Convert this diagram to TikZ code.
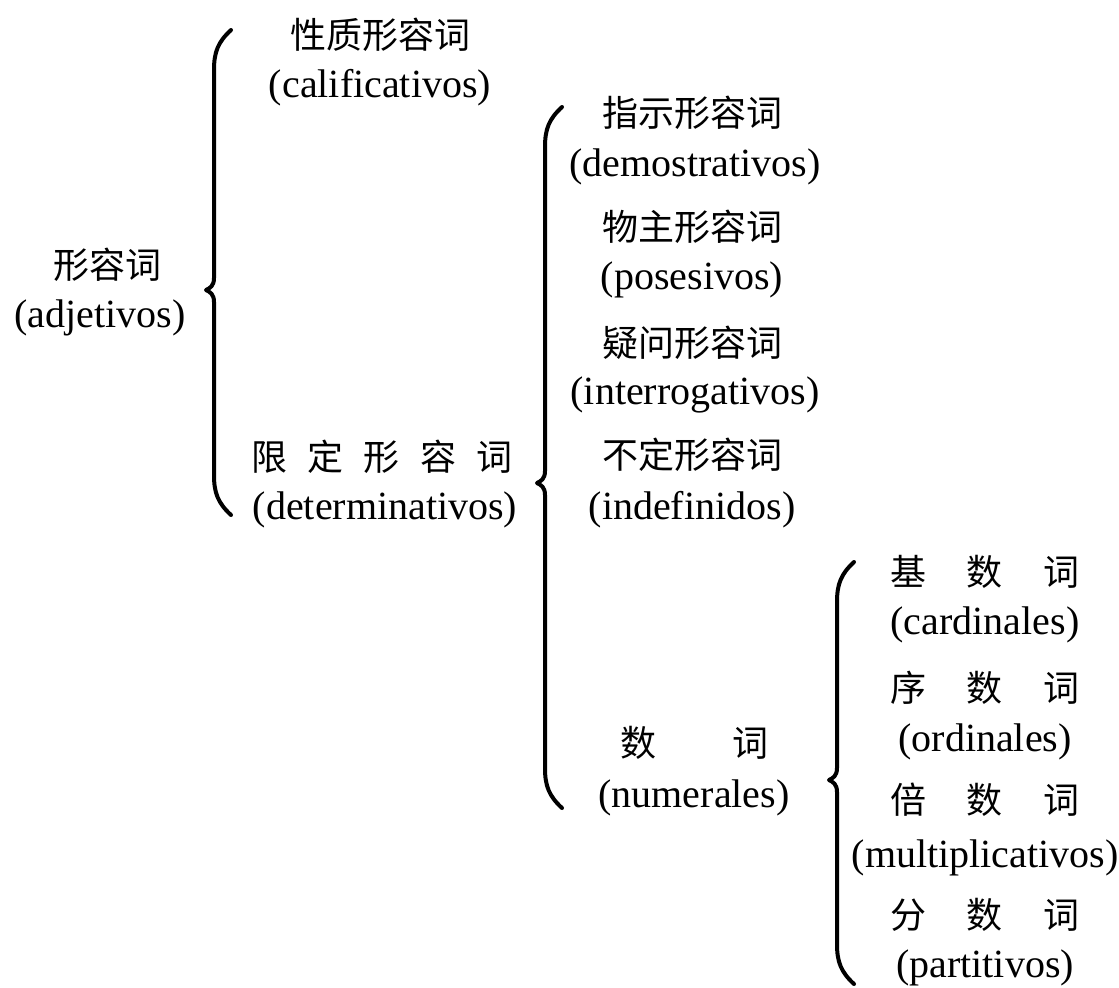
\documentclass[tikz,border=0pt]{standalone}
\usepackage{fontspec}
\setmainfont{Liberation Serif}
\newfontfamily\cjk{Noto Sans CJK SC}
\begin{document}
\begin{tikzpicture}[x=0.5pt,y=-0.5pt,
  es/.style={inner sep=0pt,font=\fontsize{20}{22}\selectfont},
  zh/.style={inner sep=0pt,font=\cjk\fontsize{18}{20}\selectfont},
  bracestyle/.style={line width=2pt,line cap=round,line join=round}]
\useasboundingbox (0,0) rectangle (1119,987);
\newcommand\mybrace[4]{%
  \draw[bracestyle] ({#1+17},{#2}) .. controls ({#1+4},{#2+12}) and ({#1},{#2+22}) .. ({#1},{#2+40})
    -- ({#1},{#3-12}) .. controls ({#1},{#3-4}) and ({#1-4},{#3-2}) .. ({#1-8},{#3})
    .. controls ({#1-4},{#3+2}) and ({#1},{#3+4}) .. ({#1},{#3+12})
    -- ({#1},{#4-40}) .. controls ({#1},{#4-22}) and ({#1+4},{#4-12}) .. ({#1+17},{#4});}
% level 1
\node[zh] (adjZh) at (108,265) {形容词};
\node[es] (adjEs) at (100,318) {(adjetivos)};
% level 2
\node[zh] (calZh) at (380,35) {性质形容词};
\node[es] (calEs) at (380,88) {(calificativos)};
\node[zh] (detZh) at (382,457) {\hbox to 131pt{限\hfill 定\hfill 形\hfill 容\hfill 词}};
\node[es] (detEs) at (385,510) {(determinativos)};
% level 3
\node[zh] (demZh) at (692,113) {指示形容词};
\node[es] (demEs) at (695,167) {(demostrativos)};
\node[zh] (posZh) at (692,227) {物主形容词};
\node[es] (posEs) at (692,280) {(posesivos)};
\node[zh] (intZh) at (692,343) {疑问形容词};
\node[es] (intEs) at (695,395) {(interrogativos)};
\node[zh] (indZh) at (692,455) {不定形容词};
\node[es] (indEs) at (692,510) {(indefinidos)};
\node[zh] (numZh) at (694,743) {\hbox to 74pt{数\hfill 词}};
\node[es] (numEs) at (694,798) {(numerales)};
% level 4
\node[zh] (carZh) at (985,572) {\hbox to 95pt{基\hfill 数\hfill 词}};
\node[es] (carEs) at (985,625) {(cardinales)};
\node[zh] (ordZh) at (985,688) {\hbox to 95pt{序\hfill 数\hfill 词}};
\node[es] (ordEs) at (985,742) {(ordinales)};
\node[zh] (mulZh) at (985,800) {\hbox to 95pt{倍\hfill 数\hfill 词}};
\node[es] (mulEs) at (985,858) {(multiplicativos)};
\node[zh] (parZh) at (985,915) {\hbox to 95pt{分\hfill 数\hfill 词}};
\node[es] (parEs) at (985,968) {(partitivos)};
% braces
\mybrace{214}{30}{290}{515}
\mybrace{545}{107}{483}{808}
\mybrace{837}{562}{780}{984}
\end{tikzpicture}
\end{document}
